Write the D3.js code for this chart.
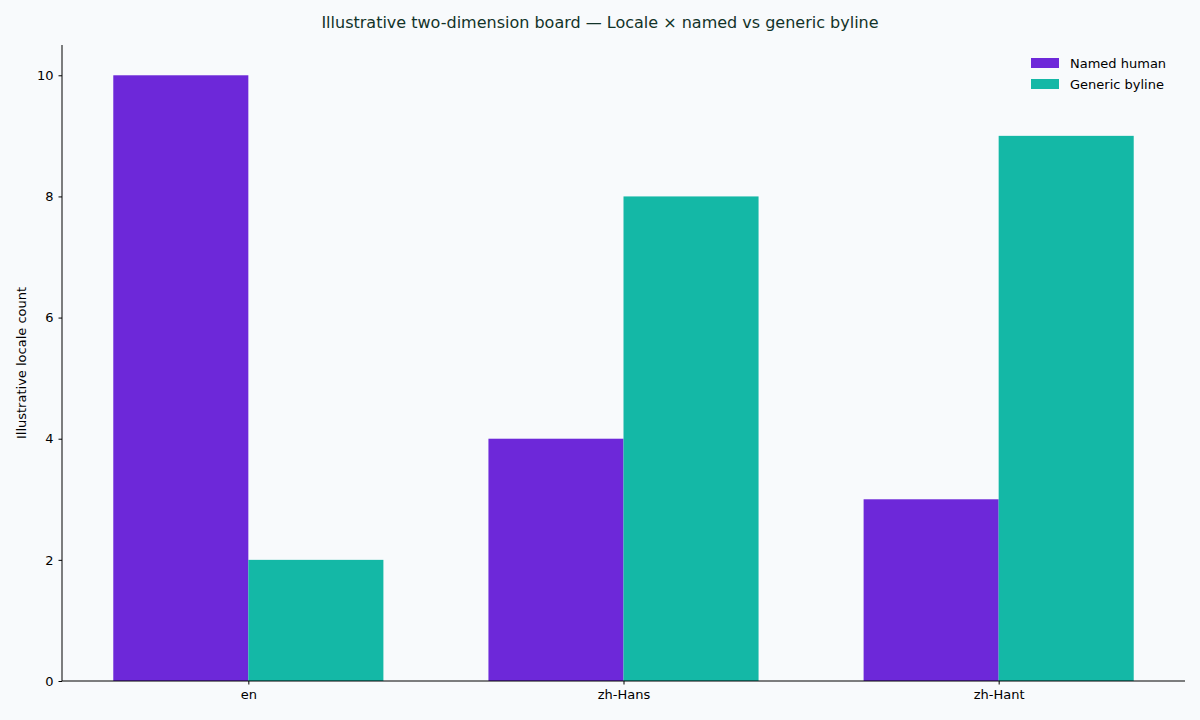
<!DOCTYPE html>
<html><head><meta charset="utf-8">
<script src="https://cdn.jsdelivr.net/npm/d3@7"></script>
<style>body{margin:0;background:#f8fafc;}svg{display:block;font-family:"DejaVu Sans",sans-serif;}</style>
</head><body><svg id="c" width="1200" height="720"></svg>
<script>
const categories = ["en","zh-Hans","zh-Hant"];
const seriesNames = ["Named human","Generic byline"];
const namedHuman = [10,4,3];
const genericByline = [2,8,9];
const yTicks = [0,2,4,6,8,10];
const colors = ["#6d28d9","#14b8a6"];

const svg = d3.select("#c");
svg.append("rect").attr("width",1200).attr("height",720).attr("fill","#f8fafc");
const L=62,R=1185,T=45,B=681;
const x = d3.scaleLinear().domain([-0.4967,2.4967]).range([L,R]);
const y = d3.scaleLinear().domain([0,10.5]).range([B,T]);
const w = 0.36;
const series=[namedHuman,genericByline];
series.forEach((vals,si)=>{
  svg.append("g").selectAll("rect").data(vals).join("rect")
    .attr("x",(d,i)=>x(i+(si===0?-w:0)))
    .attr("width",x(w)-x(0))
    .attr("y",d=>y(d)).attr("height",d=>y(0)-y(d))
    .attr("fill",colors[si]);
});
const xa = svg.append("g").attr("transform",`translate(0,${B})`)
  .call(d3.axisBottom(x).tickValues([0,1,2]).tickFormat(i=>categories[i]).tickSizeOuter(0).tickSize(3.5).tickPadding(5));
const ya = svg.append("g").attr("transform",`translate(${L},0)`)
  .call(d3.axisLeft(y).tickValues(yTicks).tickSizeOuter(0).tickSize(3.5).tickPadding(5));
[xa,ya].forEach(a=>{a.selectAll("text").attr("font-size",13).attr("fill","#000").attr("font-family","DejaVu Sans");
 a.select(".domain").attr("stroke","#000"); a.selectAll(".tick line").attr("stroke","#000");});
ya.select(".domain").attr("d",`M0,${B}V${T}`);
xa.select(".domain").attr("d",`M${L},0H${R}`);
svg.append("text").attr("x",600).attr("y",28).attr("text-anchor","middle").attr("font-size",16)
  .attr("fill","#123329").text("Illustrative two-dimension board — Locale × named vs generic byline");
svg.append("text").attr("transform",`translate(26,${(T+B)/2}) rotate(-90)`).attr("text-anchor","middle")
  .attr("font-size",13).attr("fill","#000").text("Illustrative locale count");
const lg=svg.append("g");
seriesNames.forEach((n,i)=>{
  lg.append("rect").attr("x",1031).attr("y",58+i*21).attr("width",28).attr("height",10).attr("fill",colors[i]);
  lg.append("text").attr("x",1070).attr("y",68+i*21).attr("font-size",13).attr("fill","#000").text(n);
});
</script></body></html>
